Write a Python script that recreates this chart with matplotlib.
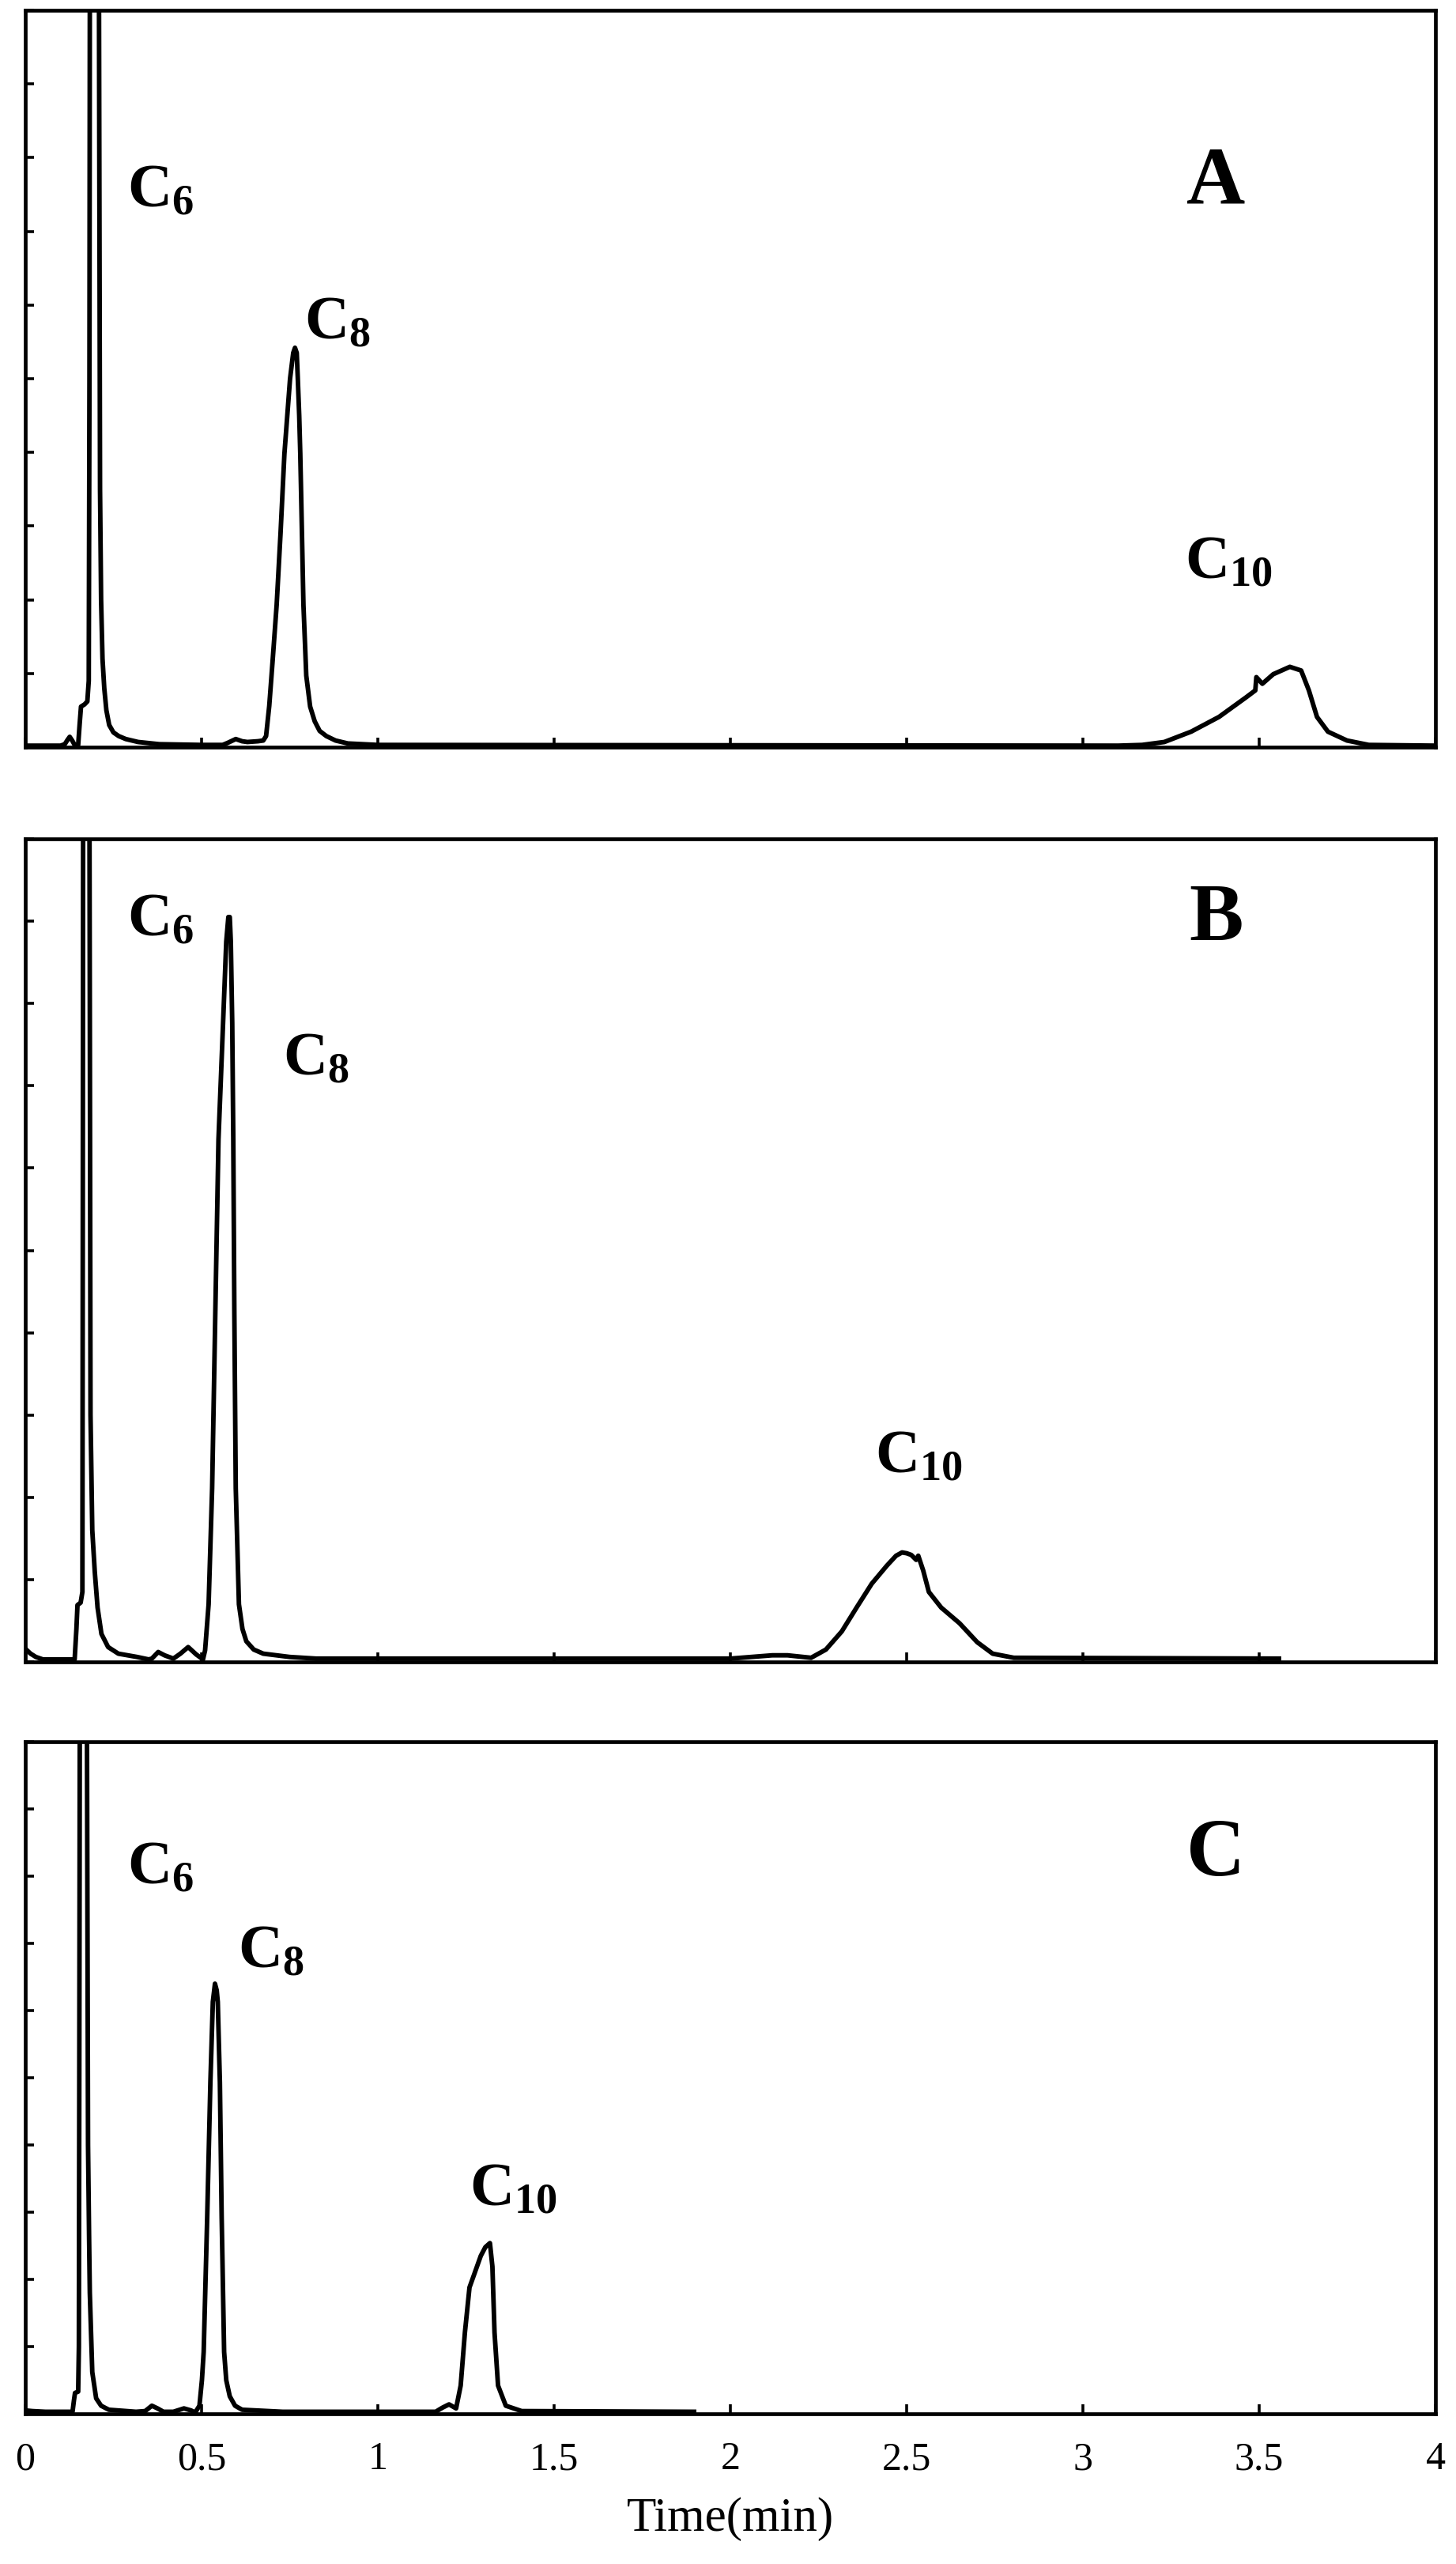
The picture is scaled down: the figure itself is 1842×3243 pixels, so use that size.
import matplotlib
matplotlib.use("Agg")
import matplotlib.pyplot as plt

plt.rcParams['font.family'] = ['Liberation Serif', 'DejaVu Serif']
plt.rcParams['mathtext.fontset'] = 'custom'
plt.rcParams['mathtext.rm'] = 'Liberation Serif'
plt.rcParams['mathtext.bf'] = 'Liberation Serif:bold'

# chromatogram A (arbitrary units 0-10)
a_time = [0.000, 0.100, 0.112, 0.120, 0.126, 0.133, 0.140, 0.150, 0.154, 0.158,
          0.168, 0.176, 0.180, 0.182, 0.184, 0.196, 0.207, 0.210, 0.212, 0.215,
          0.219, 0.224, 0.230, 0.238, 0.250, 0.265, 0.285, 0.320, 0.380, 0.500,
          0.560, 0.575, 0.597, 0.615, 0.630, 0.660, 0.675, 0.683, 0.692, 0.702,
          0.713, 0.724, 0.735, 0.751, 0.760, 0.765, 0.770, 0.773, 0.777, 0.780,
          0.789, 0.797, 0.808, 0.821, 0.835, 0.854, 0.880, 0.915, 1.000, 3.100,
          3.168, 3.231, 3.307, 3.386, 3.464, 3.489, 3.492, 3.509, 3.540, 3.587,
          3.619, 3.641, 3.664, 3.695, 3.749, 3.811, 4.000]
a_signal = [0.02, 0.02, 0.04, 0.10, 0.14, 0.09, 0.03, 0.03, 0.30, 0.55,
            0.58, 0.62, 0.90, 5.0, 15.0, 60.0, 15.0, 8.0, 3.5, 2.0,
            1.2, 0.8, 0.5, 0.3, 0.2, 0.15, 0.11, 0.07, 0.04, 0.03,
            0.03, 0.06, 0.11, 0.08, 0.07, 0.08, 0.09, 0.15, 0.56, 1.20,
            1.93, 2.90, 3.98, 5.00, 5.35, 5.42, 5.35, 5.00, 4.50, 3.98,
            1.93, 0.97, 0.55, 0.35, 0.22, 0.15, 0.09, 0.05, 0.03, 0.02,
            0.03, 0.07, 0.21, 0.41, 0.68, 0.77, 0.95, 0.86, 0.99, 1.09,
            1.04, 0.77, 0.41, 0.21, 0.09, 0.03, 0.02]

# chromatogram B
b_time = [0.000, 0.015, 0.030, 0.050, 0.140, 0.145, 0.148, 0.157, 0.162, 0.163,
          0.165, 0.172, 0.180, 0.183, 0.185, 0.190, 0.197, 0.205, 0.216, 0.235,
          0.264, 0.317, 0.350, 0.359, 0.377, 0.395, 0.420, 0.440, 0.462, 0.485,
          0.504, 0.510, 0.520, 0.530, 0.539, 0.548, 0.561, 0.570, 0.576, 0.580,
          0.583, 0.587, 0.590, 0.593, 0.597, 0.606, 0.616, 0.627, 0.648, 0.675,
          0.750, 0.825, 2.000, 2.119, 2.162, 2.229, 2.271, 2.316, 2.358, 2.401,
          2.444, 2.470, 2.487, 2.500, 2.513, 2.527, 2.533, 2.540, 2.547, 2.563,
          2.598, 2.650, 2.700, 2.744, 2.804, 3.556]
b_signal = [0.16, 0.10, 0.06, 0.03, 0.03, 0.40, 0.69, 0.72, 0.85, 5.0,
            15.0, 60.0, 15.0, 8.0, 3.0, 1.6, 1.1, 0.66, 0.34, 0.18,
            0.10, 0.06, 0.03, 0.04, 0.12, 0.08, 0.04, 0.10, 0.18, 0.09,
            0.03, 0.14, 0.70, 2.11, 4.24, 6.35, 7.76, 8.75, 9.05, 9.05,
            8.75, 7.76, 6.35, 4.24, 2.11, 0.70, 0.40, 0.25, 0.15, 0.10,
            0.06, 0.04, 0.04, 0.08, 0.08, 0.05, 0.15, 0.37, 0.66, 0.95,
            1.17, 1.29, 1.33, 1.32, 1.30, 1.24, 1.29, 1.20, 1.11, 0.85,
            0.66, 0.47, 0.24, 0.10, 0.05, 0.04]

# chromatogram C
c_time = [0.000, 0.020, 0.057, 0.134, 0.138, 0.141, 0.150, 0.152, 0.154, 0.157,
          0.163, 0.170, 0.175, 0.178, 0.181, 0.183, 0.190, 0.201, 0.215, 0.237,
          0.314, 0.340, 0.359, 0.375, 0.392, 0.420, 0.450, 0.470, 0.482, 0.494,
          0.501, 0.506, 0.516, 0.525, 0.532, 0.538, 0.543, 0.546, 0.552, 0.557,
          0.564, 0.570, 0.580, 0.595, 0.615, 0.730, 1.164, 1.183, 1.202, 1.222,
          1.235, 1.247, 1.260, 1.273, 1.292, 1.305, 1.318, 1.325, 1.331, 1.341,
          1.363, 1.408, 1.897]
c_signal = [0.05, 0.04, 0.03, 0.03, 0.20, 0.31, 0.33, 1.0, 8.0, 20.0,
            60.0, 20.0, 10.0, 4.0, 2.6, 1.8, 0.62, 0.23, 0.12, 0.06,
            0.03, 0.04, 0.12, 0.08, 0.03, 0.03, 0.08, 0.05, 0.02, 0.12,
            0.50, 0.92, 2.93, 4.93, 6.13, 6.40, 6.30, 6.13, 4.93, 2.93,
            0.92, 0.50, 0.26, 0.12, 0.06, 0.03, 0.03, 0.09, 0.14, 0.08,
            0.42, 1.21, 1.88, 2.07, 2.35, 2.48, 2.54, 2.19, 1.21, 0.42,
            0.12, 0.04, 0.03]

panel_names = ["A", "B", "C"]
peak_names = [r"$\mathbf{C_{6}}$", r"$\mathbf{C_{8}}$", r"$\mathbf{C_{10}}$"]
# label anchors (time, signal) for C6, C8, C10 and the panel letter
peak_label_x = [[0.289, 0.791, 3.289], [0.289, 0.731, 2.410], [0.289, 0.603, 1.260]]
peak_label_y = [[7.33, 5.54, 2.29], [8.82, 7.13, 2.30], [7.88, 6.64, 3.10]]
panel_label_x = [3.377, 3.377, 3.377]
panel_label_y = [7.38, 8.77, 8.01]

xticks = [0, 0.5, 1, 1.5, 2, 2.5, 3, 3.5, 4]
xticklabels = ["0", "0.5", "1", "1.5", "2", "2.5", "3", "3.5", "4"]

traces = [(a_time, a_signal), (b_time, b_signal), (c_time, c_signal)]

W, H = 1842, 3243
fig = plt.figure(figsize=(W / 100, H / 100), dpi=100)
# [top, bottom] in pixels for each panel
boxes = [(13, 945), (1061, 2102), (2203, 3053)]
left, right = 32, 1816

for i, ((t, s), (top, bot)) in enumerate(zip(traces, boxes)):
    ax = fig.add_axes([left / W, 1 - bot / H, (right - left) / W, (bot - top) / H])
    ax.plot(t, s, color="black", lw=4.2, solid_joinstyle="round")
    ax.set_xlim(0, 4)
    ax.set_ylim(0, 10)
    ax.set_yticks(range(0, 11))
    ax.set_yticklabels([])
    ax.set_xticks(xticks)
    for sp in ax.spines.values():
        sp.set_linewidth(3.4)
    ax.tick_params(axis="y", direction="in", length=8, width=2.6, left=True, right=False)
    ax.tick_params(axis="x", direction="in", length=9, width=2.6, top=False,
                   labelsize=36, pad=25)
    if i < 2:
        ax.set_xticklabels([])
    else:
        ax.set_xticklabels(xticklabels)
        ax.set_xlabel("Time(min)", fontsize=44, labelpad=17)

    for name, px, py in zip(peak_names, peak_label_x[i], peak_label_y[i]):
        ax.text(px, py, name, fontsize=56, ha="left", va="baseline")
    ax.text(panel_label_x[i], panel_label_y[i], panel_names[i], fontsize=74,
            fontweight="bold", ha="center", va="baseline")

fig.savefig("out.png", dpi=100)
